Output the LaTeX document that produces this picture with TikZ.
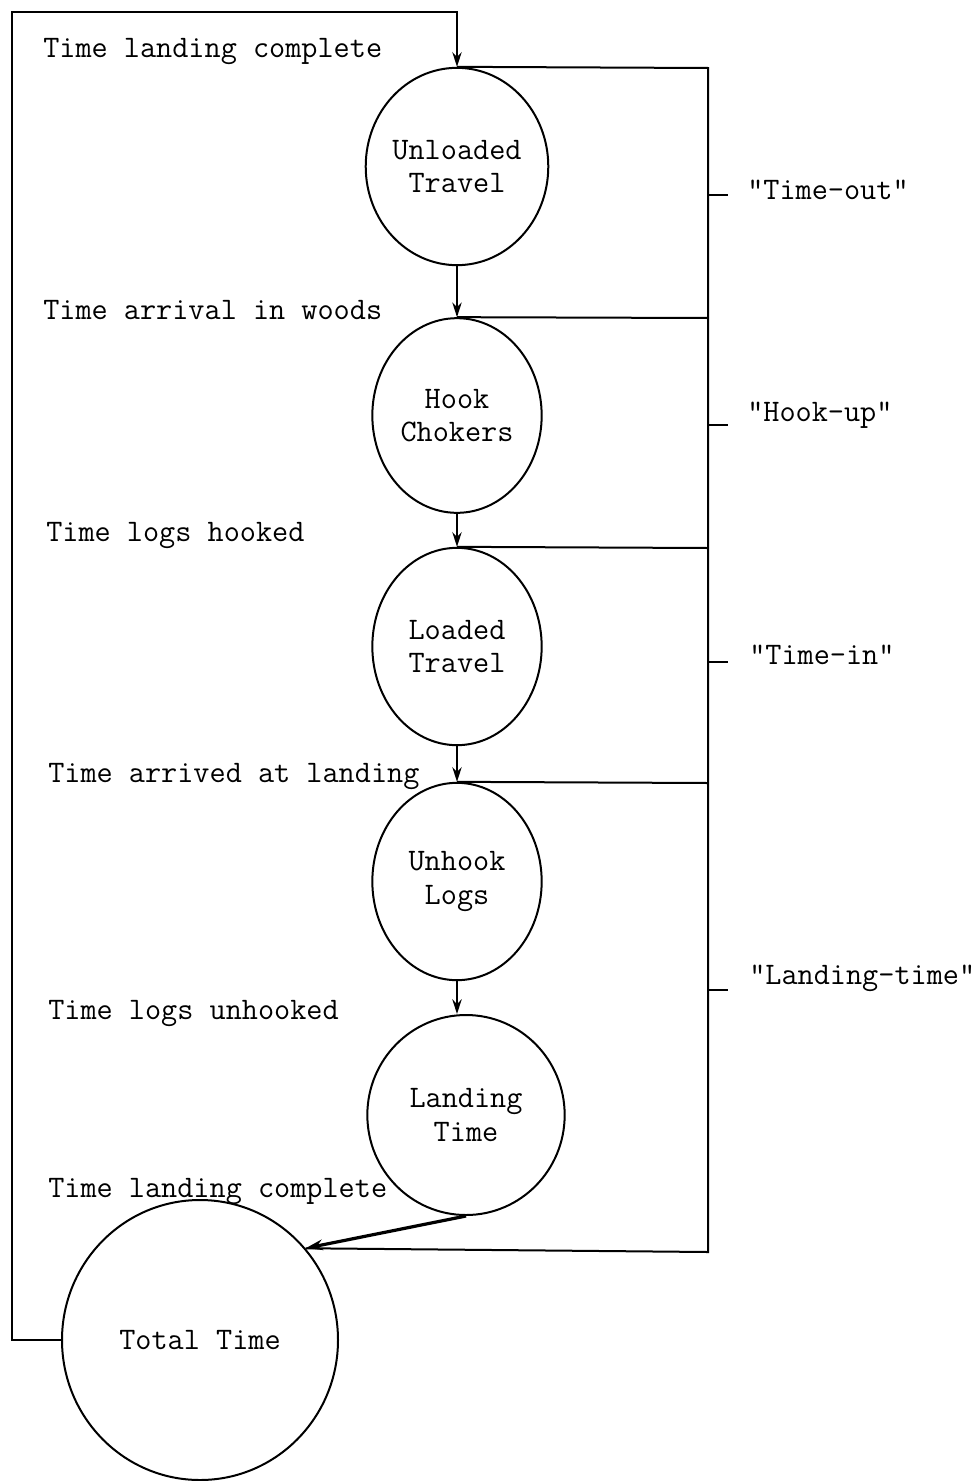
\documentclass[tikz,border=0pt]{standalone}
\usepackage{fontspec}
\usetikzlibrary{shapes.geometric,arrows.meta}
\begin{document}
\begin{tikzpicture}[x=0.75pt,y=-0.75pt,
  every node/.style={font=\ttfamily\fontsize{23.5}{25}\selectfont},
  activity/.style={draw,ellipse,line width=1.5pt,inner sep=0pt,align=center},
  link/.style={line width=1.5pt},
  flow/.style={line width=1.5pt,-{Stealth[length=11pt,width=7pt]}},
  caption/.style={anchor=west,inner sep=0pt},
  phase/.style={anchor=west,inner sep=0pt}]
\useasboundingbox (0,0) rectangle (980,1481);

% activity circles
\node[activity,minimum width=126pt,minimum height=148pt] (ut) at (457,166.5) {Unloaded\\Travel};
\node[activity,minimum width=127pt,minimum height=146pt] (hc) at (457,415.5) {Hook\\Chokers};
\node[activity,minimum width=127pt,minimum height=148pt] (lt) at (457,646.5) {Loaded\\Travel};
\node[activity,minimum width=127pt,minimum height=148pt] (ul) at (457,881.5) {Unhook\\Logs};
\node[activity,minimum width=148pt,minimum height=150pt] (ld) at (466,1115) {Landing\\Time};
\node[activity,minimum width=207pt,minimum height=210pt] (tt) at (200,1340) {Total Time};

% timing points on the left
\node[caption] (c1) at (43,52) {Time landing complete};
\node[caption] (c2) at (43,310) {Time arrival in woods};
\node[caption] (c3) at (46,536) {Time logs hooked};
\node[caption] (c4) at (48,777) {Time arrived at landing};
\node[caption] (c5) at (48,1014) {Time logs unhooked};
\node[caption] (c6) at (48,1191) {Time landing complete};

% sequence of activities
\draw[flow] (ut.south) -- (hc.north);
\draw[flow] (hc.south) -- (lt.north);
\draw[flow] (lt.south) -- (ul.north);
\draw[flow] (ul.south) -- (ul.south |- ld.north);
\draw[line width=2.4pt,-{Stealth[length=13pt,width=8pt]}] (ld.south) -- (tt.41);

% return loop to the start of the cycle
\coordinate (lb) at (12,1340);
\coordinate (lt0) at (12,12);
\draw[flow] (tt.west) -- (lb) -- (lt0) -| (ut.north);

% bracket on the right
\coordinate (r1) at (708,68);
\coordinate (r2) at (708,318);
\coordinate (r3) at (708,548);
\coordinate (r4) at (708,783);
\coordinate (r5) at (708,1252);
\draw[link] (ut.north) -- (r1) -- (r5) -- (tt.41);
\draw[link] (hc.north) -- (r2);
\draw[link] (lt.north) -- (r3);
\draw[link] (ul.north) -- (r4);

% phase ticks and names
\coordinate (t1) at (708,195);
\coordinate (t2) at (708,425);
\coordinate (t3) at (708,662);
\coordinate (t4) at (708,990);
\draw[link] (t1) -- ++(20,0);
\draw[link] (t2) -- ++(20,0);
\draw[link] (t3) -- ++(20,0);
\draw[link] (t4) -- ++(20,0);
\node[phase] (p1) at (747,190) {"Time-out"};
\node[phase] (p2) at (747,415) {"Hook-up"};
\node[phase] (p3) at (749,655) {"Time-in"};
\node[phase] (p4) at (749,978) {"Landing-time"};
\end{tikzpicture}
\end{document}
